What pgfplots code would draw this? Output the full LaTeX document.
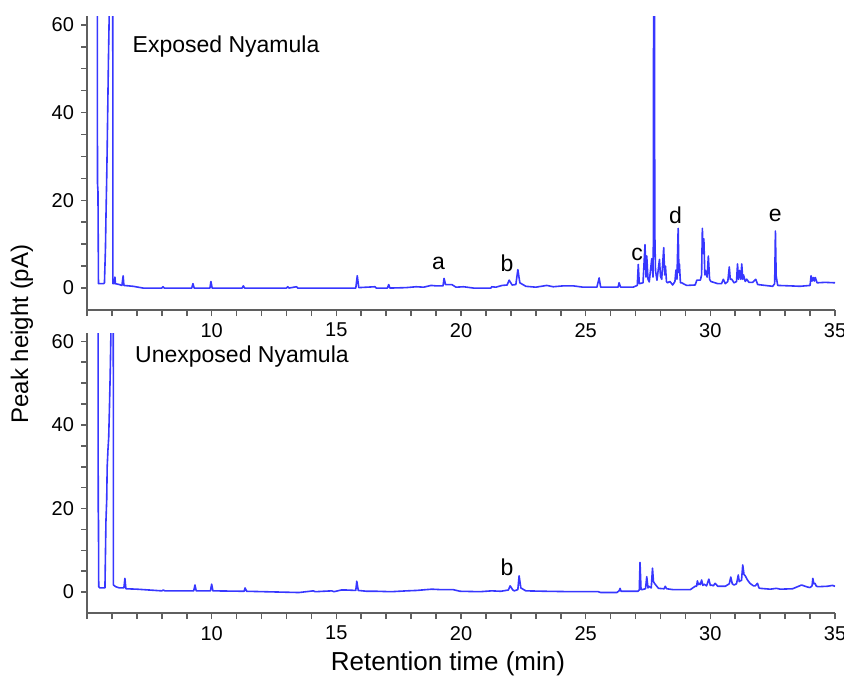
\documentclass[border=0pt]{standalone}
\usepackage{pgfplots}
\pgfplotsset{compat=1.18}
\usepackage{pgfplotstable}
\usepackage{fontspec}
\setmainfont{Liberation Sans}
\definecolor{trace}{RGB}{55,55,255}
\definecolor{axgray}{RGB}{95,95,95}

% exposed sample
\pgfplotstableread{
x y
5.40 200
5.42 24
5.44 22
5.46 1.0
5.66 1.0
5.70 1.2
5.74 9
5.76 16
5.79 25
5.81 32
5.83 40
5.86 52
5.89 62
5.95 200
6.02 200
6.04 1.0
6.10 1.0
6.12 2.5
6.14 1.0
6.30 0.8
6.40 0.6
6.45 2.8
6.48 0.6
6.85 0.4
7.25 0.0
8.00 0.0
8.05 0.3
8.10 0.0
9.20 0.0
9.25 1.0
9.30 0.0
9.93 0.0
9.97 1.5
10.02 0.0
11.22 0.0
11.27 0.5
11.32 0.0
13.00 0.0
13.05 0.3
13.10 0.0
13.40 0.3
13.45 0.0
15.78 0.0
15.84 2.8
15.90 0.1
16.55 0.3
16.60 0.0
17.05 0.0
17.10 0.8
17.15 0.0
17.80 0.1
18.20 0.3
18.50 0.2
18.80 0.6
19.00 0.5
19.28 0.5
19.32 2.2
19.38 0.8
19.63 0.8
19.80 0.2
20.10 0.3
20.50 0.0
21.20 0.0
21.23 0.3
21.40 0.2
21.65 0.6
21.85 0.7
21.93 1.8
22.05 0.7
22.20 0.8
22.28 4.2
22.36 1.2
22.60 0.4
23.00 0.2
23.44 0.6
23.70 0.3
24.10 0.5
24.50 0.5
24.90 0.2
25.45 0.2
25.54 2.3
25.60 0.2
26.30 0.2
26.34 1.2
26.40 0.2
26.90 0.2
27.07 0.6
27.11 5.4
27.15 1.0
27.30 1.2
27.38 9.9
27.42 2.5
27.45 7.3
27.50 2.0
27.55 1.4
27.65 6.7
27.70 2.5
27.72 13.7
27.73 200
27.75 200
27.77 13.7
27.80 4.0
27.86 1.8
27.96 6.5
28.00 2.7
28.05 2.0
28.13 9.2
28.17 3.0
28.20 5.0
28.24 1.5
28.28 1.2
28.38 1.5
28.49 0.7
28.58 1.5
28.62 4.1
28.66 2.0
28.71 13.6
28.74 3.5
28.76 5.5
28.80 1.2
28.85 1.2
29.05 0.6
29.39 0.7
29.46 1.8
29.60 1.8
29.65 3.0
29.68 13.6
29.71 8.0
29.74 11.2
29.78 3.0
29.80 4.0
29.87 2.5
29.92 7.3
29.97 2.0
30.02 1.5
30.30 1.0
30.45 1.0
30.52 2.0
30.60 1.0
30.70 1.5
30.76 4.8
30.80 2.0
30.86 2.0
30.95 1.2
31.05 1.5
31.09 5.5
31.13 2.0
31.17 4.0
31.22 2.0
31.26 5.5
31.30 2.0
31.33 3.0
31.40 1.5
31.46 2.0
31.55 1.3
31.70 1.3
31.82 2.0
31.90 0.8
32.20 0.6
32.50 0.4
32.58 1.0
32.61 13.0
32.64 2.8
32.70 0.6
33.20 0.5
33.60 0.4
34.00 0.6
34.04 2.8
34.08 1.6
34.13 2.4
34.17 1.6
34.21 2.4
34.28 1.2
34.60 1.3
35.00 1.2
}\exposed

% unexposed sample
\pgfplotstableread{
x y
5.43 200
5.45 20
5.46 17
5.47 1.3
5.52 1.0
5.72 1.0
5.74 9
5.76 17
5.79 22
5.81 30
5.84 34
5.87 37
5.90 44
5.93 52
5.96 62
5.99 200
6.04 200
6.06 1.7
6.15 1.3
6.30 1.0
6.48 1.0
6.52 3.3
6.56 0.8
7.00 0.7
7.50 0.5
8.00 0.3
8.06 0.5
8.12 0.3
9.28 0.3
9.33 1.7
9.38 0.3
9.95 0.3
10.00 1.9
10.05 0.3
11.30 0.2
11.34 1.0
11.40 0.2
12.80 0.0
13.50 -0.1
14.08 0.3
14.15 0.1
14.82 0.3
14.90 0.1
15.20 0.5
15.40 0.5
15.78 0.4
15.82 2.6
15.88 0.4
16.22 0.2
16.62 0.2
17.20 0.1
17.82 0.3
18.22 0.4
18.62 0.6
18.83 0.7
19.16 0.6
19.68 0.6
19.96 0.2
20.76 0.1
21.23 0.3
21.60 0.2
21.90 0.5
21.97 1.5
22.08 0.5
22.14 0.3
22.28 0.6
22.33 3.9
22.40 1.0
22.60 0.3
23.38 0.2
24.50 0.1
25.50 0.1
25.60 -0.1
26.25 -0.1
26.34 0.3
26.38 0.9
26.42 0.2
27.10 0.2
27.15 0.5
27.18 7.1
27.22 0.6
27.26 0.6
27.40 0.8
27.45 3.7
27.50 1.0
27.53 1.4
27.63 1.0
27.68 5.7
27.72 2.5
27.76 2.1
27.92 0.9
28.15 0.8
28.19 1.4
28.25 0.8
28.50 0.6
29.20 0.6
29.39 1.4
29.45 1.4
29.48 2.7
29.52 1.8
29.56 2.1
29.60 1.8
29.65 2.9
29.70 1.6
29.74 1.9
29.85 1.5
29.94 3.1
30.00 1.6
30.05 1.7
30.12 1.5
30.19 2.1
30.30 1.4
30.60 1.4
30.76 2.0
30.82 3.6
30.88 2.0
30.95 1.7
31.05 2.0
31.12 4.1
31.16 2.5
31.19 2.7
31.25 2.8
31.30 6.5
31.35 4.2
31.39 4.0
31.50 2.8
31.59 2.1
31.73 1.5
31.80 1.5
31.89 2.1
31.95 1.0
32.00 0.9
32.40 0.7
32.65 0.9
32.80 0.7
33.30 0.8
33.66 1.7
33.90 1.2
34.00 1.1
34.08 1.5
34.11 3.3
34.15 2.0
34.20 2.1
34.25 1.4
34.33 1.3
34.70 1.4
34.90 1.6
35.00 1.4
}\unexposed

\pgfplotsset{
  chrom/.style={
    scale only axis,
    width=374pt,
    xmin=5, xmax=35,
    ymin=-5, ymax=62,
    axis lines*=left,
    axis line style={axgray, line width=1pt},
    tick align=outside,
    tick style={axgray, line width=0.8pt},
    major tick length=3pt,
    minor tick length=3pt,
    xtick={10,15,...,35},
    minor xtick={5,6,...,35},
    ytick={0,20,40,60},
    minor y tick num=3,
    /pgf/number format/assume math mode=true,
    tick label style={font=\fontsize{10}{12}\selectfont},
    no markers,
  },
}
\tikzset{
  trc/.style={trace, line width=0.8pt, line join=round},
  lbl/.style={font=\fontsize{11.5}{13}\selectfont},
}

\begin{document}
\begin{tikzpicture}
\path[use as bounding box] (0,0) rectangle (422pt,-339pt);

\begin{axis}[chrom, height=147pt, at={(43.5pt,-155pt)}, anchor=south west]
  \addplot[trc] table[x=x, y=y] {\exposed};
  \node[lbl, anchor=west] at (axis cs:6.55,55) {Exposed Nyamula};
  \node[lbl] at (axis cs:19.1,5.7) {a};
  \node[lbl] at (axis cs:21.85,5.7) {b};
  \node[lbl] at (axis cs:27.06,7.7) {c};
  \node[lbl] at (axis cs:28.6,16.6) {d};
  \node[lbl] at (axis cs:32.6,16.6) {e};
\end{axis}

\begin{axis}[chrom, height=140pt, at={(43.5pt,-306.5pt)}, anchor=south west]
  \addplot[trc] table[x=x, y=y] {\unexposed};
  \node[lbl, anchor=west] at (axis cs:6.65,56.4) {Unexposed Nyamula};
  \node[lbl] at (axis cs:21.85,6.0) {b};
\end{axis}

\node[font=\fontsize{13}{15}\selectfont, inner sep=0pt] at (224pt,-332pt) {Retention time (min)};
\node[font=\fontsize{12}{14}\selectfont, rotate=90] at (11pt,-167pt) {Peak height (pA)};
\end{tikzpicture}
\end{document}
